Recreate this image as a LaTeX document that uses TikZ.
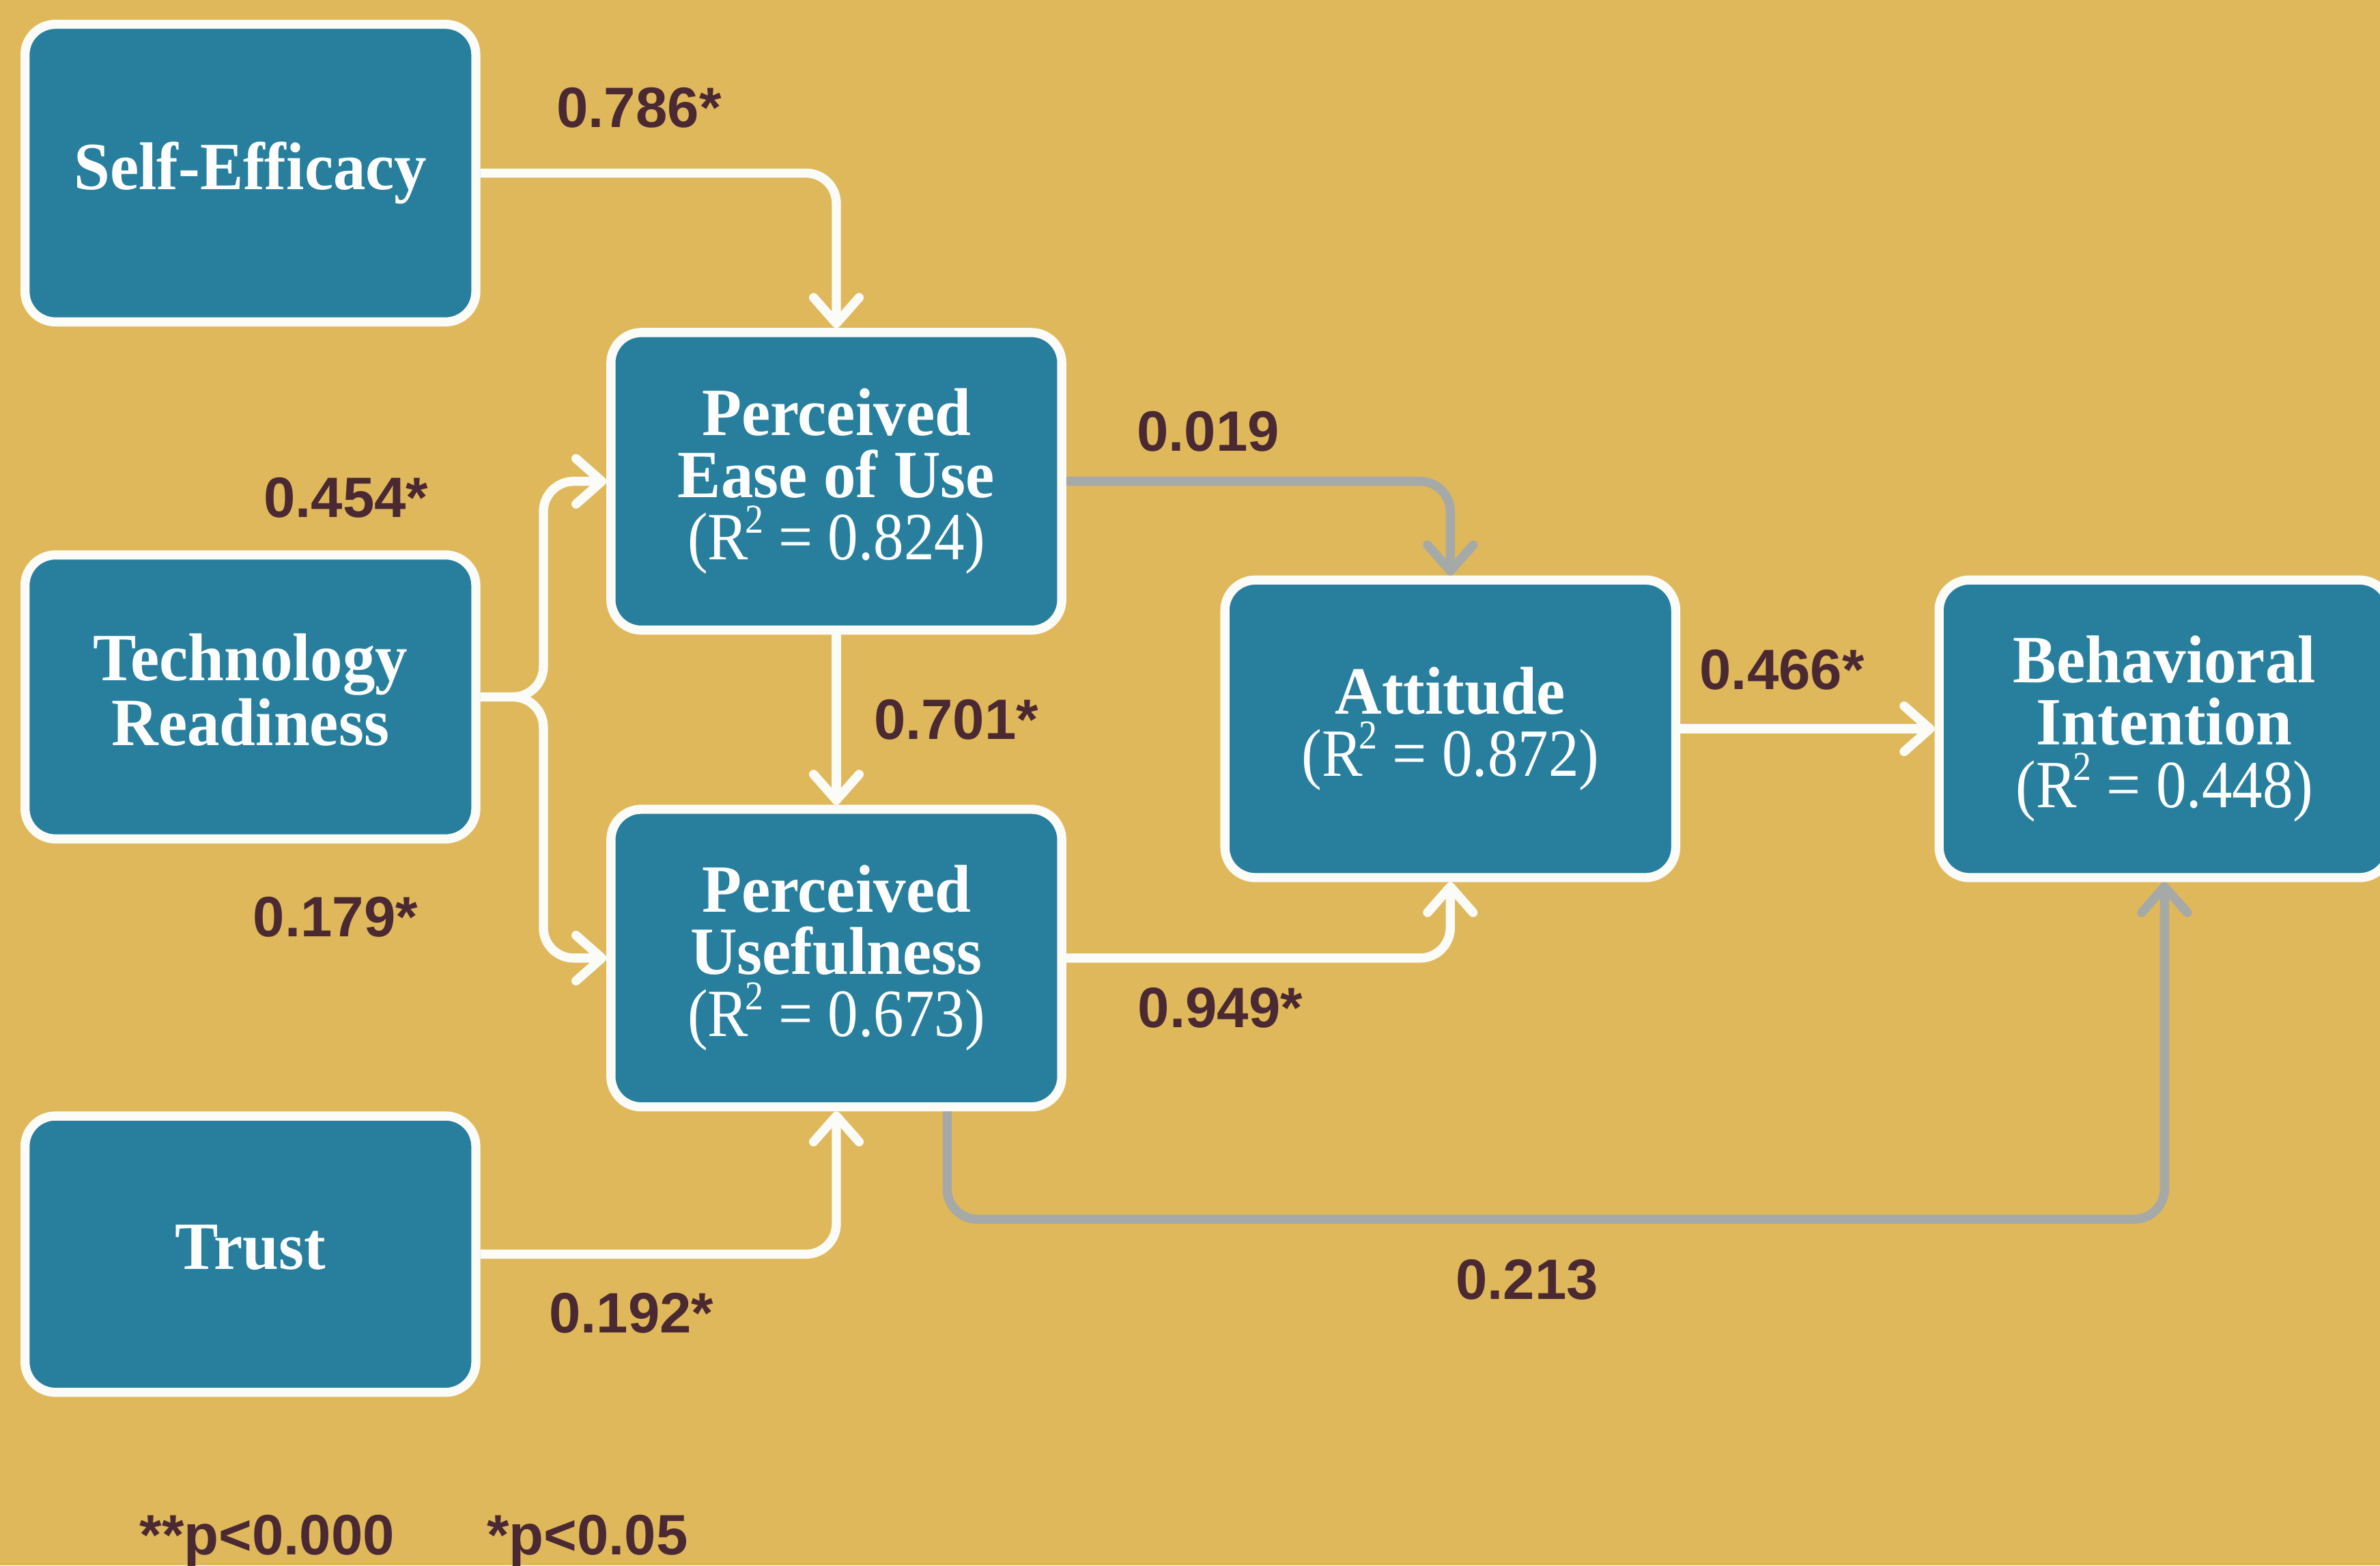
\documentclass[tikz,border=0pt]{standalone}
\usepackage{fontspec}
\usetikzlibrary{arrows.meta}
\newfontfamily\boxfont[FakeStretch=0.96]{Liberation Serif}
\newfontfamily\rfont[FakeStretch=0.9]{Liberation Serif}
\newfontfamily\labfont{Liberation Sans}
\definecolor{bg}{HTML}{DFB85B}
\definecolor{boxfill}{HTML}{287F9D}
\definecolor{edge}{HTML}{FBFBF8}
\definecolor{grayc}{HTML}{A5A9A8}
\definecolor{labcol}{HTML}{4B2932}
\newcommand\rsq{R\kern-0.05em\raisebox{0.4em}{\fontsize{27}{27}\selectfont 2}}
\newcommand\rline[1]{{\rfont\mdseries (\rsq{} = #1)}}
\tikzset{
  box/.style={draw=edge, line width=6pt, fill=boxfill, rounded corners=20pt,
    minimum width=297pt, minimum height=196pt, text=white, align=center,
    inner sep=0pt, font=\boxfont\bfseries\fontsize{44.5}{41}\selectfont},
  lab/.style={text=labcol, inner sep=0pt, font=\labfont\bfseries\fontsize{37.5}{40}\selectfont},
  wline/.style={draw=edge, line width=6pt, rounded corners=20pt,
    -{Straight Barb[length=17pt,width=30pt,round]}},
  gline/.style={wline, draw=grayc}
}
\begin{document}
\begin{tikzpicture}[x=1pt,y=-1pt]
\fill[bg] (0,0) rectangle (1568,1031);
\useasboundingbox (0,0) rectangle (1568,1031);
% boxes
\node[box] (SE) at (165,114) {Self-Efficacy};
\node[box, minimum height=187pt, font=\boxfont\bfseries\fontsize{44.5}{42.5}\selectfont] (TR) at (165,459) {Technology\\Readiness\vphantom{y}};
\node[box, minimum height=182pt] (TT) at (165,826) {Trust\vphantom{y}};
\node[box] (PEOU) at (551,317) {Perceived\\Ease of Use\\\rline{0.824}};
\node[box] (PU) at (551,631) {Perceived\\Usefulness\\\rline{0.673}};
\node[box] (ATT) at (955.5,480) {Attitude\\\rline{0.872}};
\node[box] (BI) at (1426,480) {Behavioral\\Intention\\\rline{0.448}};
% connectors
\coordinate (fork) at (358,459);
\draw[wline] (SE.east) -| (PEOU.north);
\draw[wline] (TR.east) -- (fork) |- (PEOU.west);
\draw[wline] (TR.east) -- (fork) |- (PU.west);
\draw[wline] (TT.east) -| (PU.south);
\draw[wline] (PEOU.south) -- (PU.north);
\draw[gline] (PEOU.east) -| (ATT.north);
\draw[wline] (PU.east) -| (ATT.south);
\draw[wline] (ATT.east) -- (BI.west);
\draw[gline] ([xshift=73pt]PU.south) -- ++(0,71) -| (BI.south);
% labels
\node[lab] (l1) at (421,71) {0.786*};
\node[lab] (l2) at (228,328) {0.454*};
\node[lab] (l3) at (221,604) {0.179*};
\node[lab] (l4) at (796,284) {0.019};
\node[lab] (l5) at (630,474) {0.701*};
\node[lab] (l6) at (1174,441) {0.466*};
\node[lab] (l7) at (804,664) {0.949*};
\node[lab] (l8) at (416,865) {0.192*};
\node[lab] (l9) at (1006,843) {0.213};
\node[lab, anchor=base] (n1) at (176,1024) {**p<0.000};
\node[lab, anchor=base] (n2) at (387,1024) {*p<0.05};
\end{tikzpicture}
\end{document}
